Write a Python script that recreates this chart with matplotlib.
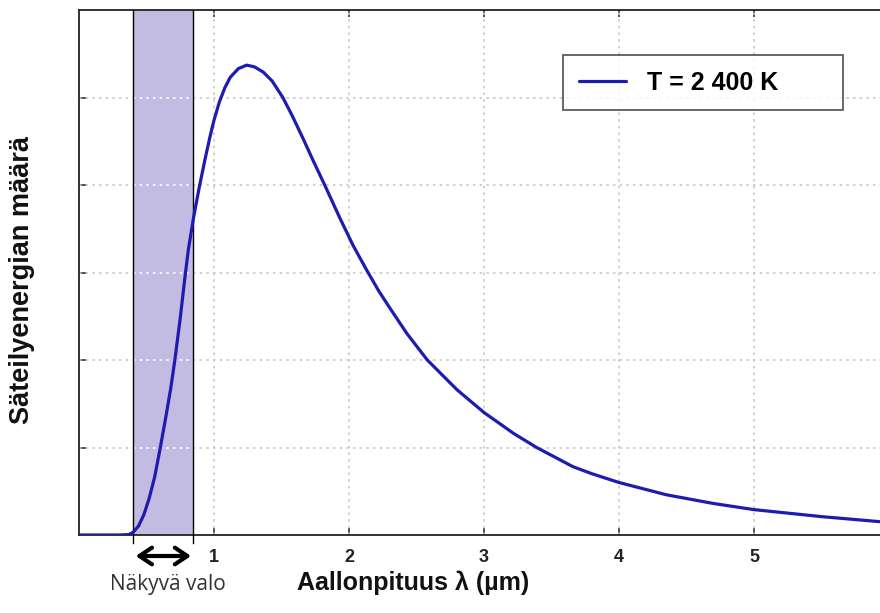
import matplotlib
matplotlib.use("Agg")
import matplotlib.pyplot as plt
from matplotlib.transforms import blended_transform_factory

plt.rcParams['font.family'] = ['Liberation Sans', 'DejaVu Sans']

# Data
wavelength = [0.0, 0.30, 0.37, 0.40, 0.44, 0.48, 0.52, 0.56, 0.60, 0.64, 0.68,
              0.71, 0.75, 0.785, 0.81, 0.85, 0.889, 0.933, 0.97, 1.0, 1.04,
              1.08, 1.12, 1.18, 1.242, 1.30, 1.365, 1.43, 1.51, 1.58, 1.66,
              1.74, 1.82, 1.93, 2.03, 2.13, 2.22, 2.30, 2.43, 2.58, 2.80, 3.0,
              3.22, 3.39, 3.66, 3.8, 4.0, 4.35, 4.7, 5.0, 5.5, 5.95]
intensity = [0.0, 0.0, 0.005, 0.03, 0.10, 0.23, 0.42, 0.66, 0.98, 1.32, 1.68,
             2.0, 2.48, 2.95, 3.26, 3.64, 3.96, 4.29, 4.55, 4.74, 4.95,
             5.11, 5.23, 5.33, 5.37, 5.35, 5.29, 5.19, 5.0, 4.79, 4.53,
             4.26, 4.0, 3.63, 3.31, 3.03, 2.79, 2.60, 2.30, 2.0, 1.66, 1.40,
             1.16, 1.0, 0.78, 0.70, 0.60, 0.46, 0.36, 0.29, 0.21, 0.15]
visible_band = [0.40, 0.845]
x_ticks = [1, 2, 3, 4, 5]
x_tick_labels = ['1', '2', '3', '4', '5']
y_ticks = [1, 2, 3, 4, 5]
legend_label = 'T = 2 400 K'
x_title = 'Aallonpituus λ (µm)'
y_title = 'Säteilyenergian määrä'
band_title = 'Näkyvä valo'

fig = plt.figure(figsize=(8.8, 6.13), dpi=100)
ax = fig.add_axes([79/880, 78/613, 801/880, 525/613])
ax.set_xlim(0, 801/135)
ax.set_ylim(0, 6.0)

# visible band
ax.axvspan(visible_band[0], visible_band[1], color='#c3bce2', zorder=1, lw=0)
for xv in visible_band:
    ax.plot([xv, xv], [-0.09, 6.0], color='black', lw=1.0, zorder=3, clip_on=False)

# grid
dot = (0, (1.5, 2.5))
gcol = '#c8c8c4'
for xv in x_ticks:
    ax.axvline(xv, color=gcol, lw=1.2, ls=dot, zorder=2)
for yv in y_ticks:
    ax.plot([0, visible_band[0]], [yv, yv], color=gcol, lw=1.2, ls=dot, zorder=2)
    ax.plot([visible_band[0], visible_band[1]], [yv, yv], color='white', lw=1.2, ls=dot, zorder=2)
    ax.plot([visible_band[1], 6.0], [yv, yv], color=gcol, lw=1.2, ls=dot, zorder=2)

# curve
ax.plot(wavelength, intensity, color='#1c1cb0', lw=2.3, zorder=4,
        label=legend_label, solid_capstyle='round', solid_joinstyle='round')

# ticks
ax.set_xticks(x_ticks)
ax.set_xticklabels(x_tick_labels, fontsize=13, fontweight='bold', color='#222222')
ax.set_yticks(y_ticks)
ax.set_yticklabels([])
ax.tick_params(axis='both', direction='in', length=5, width=1.2, color='#333333',
               top=True, right=False)
ax.tick_params(axis='x', pad=10)
for s in ['left', 'bottom', 'top']:
    ax.spines[s].set_linewidth(1.3)
    ax.spines[s].set_color('#222222')
ax.spines['right'].set_visible(False)

# legend
x0 = (563 - 79) / 801
w = (843 - 563) / 801
y1 = (535 - 55) / 525
h = (110 - 55) / 525
leg = ax.legend(loc='upper left', bbox_to_anchor=(x0, y1 - h, w, h), mode='expand',
                frameon=True, fancybox=False, edgecolor='#333333',
                prop={'weight': 'bold', 'size': 18}, handlelength=1.9,
                borderpad=0.62, handletextpad=0.85, borderaxespad=0)
leg.get_frame().set_linewidth(1.3)

trans = blended_transform_factory(ax.transData, ax.transAxes)
ax.annotate('', xy=(0.42, -0.04), xytext=(0.83, -0.04), xycoords=trans,
            textcoords=trans,
            arrowprops=dict(arrowstyle='<->, head_length=0.45, head_width=0.3',
                            color='black', lw=3.0, mutation_scale=20,
                            shrinkA=0, shrinkB=0))
ax.text(0.66, -0.095, band_title, transform=trans, ha='center', va='center',
        fontsize=15, color='#333333', family=['Open Sans', 'DejaVu Sans'])
ax.text((413 - 79) / 135, -(590 - 535) / 525, x_title, transform=trans,
        ha='center', va='baseline', fontsize=18, fontweight='bold', color='#111111')
fig.text(22/880, 1 - 280/613, y_title, rotation=90, ha='center', va='center',
         fontsize=19.5, fontweight='bold', color='#111111')

fig.savefig('out.png', dpi=100)
